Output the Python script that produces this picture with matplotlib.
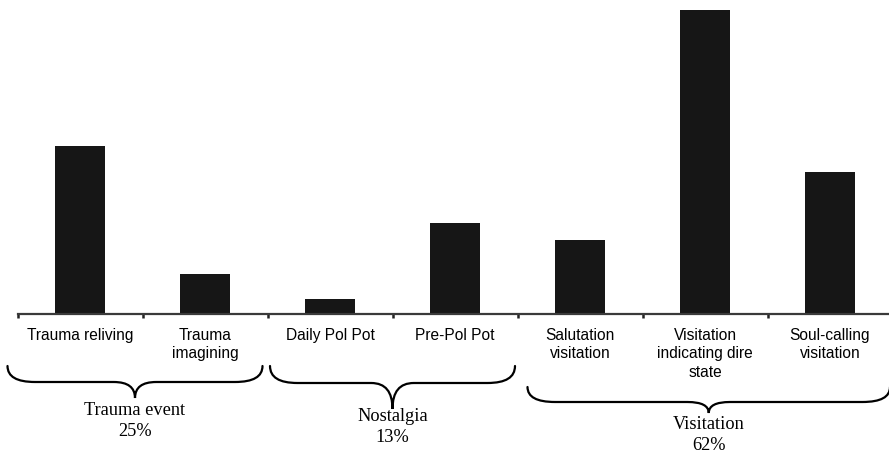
import matplotlib
matplotlib.use("Agg")
import matplotlib.pyplot as plt
from matplotlib.path import Path
from matplotlib.patches import PathPatch
from matplotlib.transforms import blended_transform_factory

categories = ["Trauma reliving", "Trauma\nimagining", "Daily Pol Pot", "Pre-Pol Pot",
              "Salutation\nvisitation", "Visitation\nindicating dire\nstate", "Soul-calling\nvisitation"]
values = [168, 40, 15, 91, 74, 304, 142]
groups = ["Trauma event\n25%", "Nostalgia\n13%", "Visitation\n62%"]
group_spans = [(0, 1), (2, 3), (4, 6)]

W, H = 889, 454
fig = plt.figure(figsize=(W / 100, H / 100), dpi=100)
ax_left, ax_bottom_px, ax_top_px = 17.5, 314, 0
ax = fig.add_axes([ax_left / W, (H - ax_bottom_px) / H, 875 / W, (ax_bottom_px - ax_top_px) / H])

x = list(range(len(categories)))
ax.bar(x, values, width=0.4, color="#161616")
ax.set_xlim(-0.5, len(categories) - 0.5)
ax.set_ylim(0, 314)

for s in ["top", "right", "left"]:
    ax.spines[s].set_visible(False)
ax.spines["bottom"].set_color("#3a3a3a")
ax.spines["bottom"].set_linewidth(1.6)
ax.set_yticks([])
ax.set_xticks(x)
ax.set_xticklabels(categories, fontsize=11.2, family="Liberation Sans", linespacing=1.3)
ax.tick_params(axis="x", which="major", length=0, pad=10)
ax.set_xticks([i - 0.5 for i in range(len(categories) + 1)], minor=True)
ax.tick_params(axis="x", which="minor", length=3, width=1.8, color="#222222", direction="out")

trans = blended_transform_factory(ax.transData, ax.transAxes)
axh = ax_bottom_px - ax_top_px

def fy(py):
    return (ax_bottom_px - py) / axh

def brace(x0, x1, yt, ym, yp, r_end=0.22, r_mid=0.17, xc=None):
    if xc is None:
        xc = (x0 + x1) / 2
    verts = [(x0, yt), (x0, ym), (x0 + r_end, ym),
             (xc - r_mid, ym), (xc, ym), (xc, yp),
             (xc, ym), (xc + r_mid, ym),
             (x1 - r_end, ym), (x1, ym), (x1, yt)]
    codes = [Path.MOVETO, Path.CURVE3, Path.CURVE3,
             Path.LINETO, Path.CURVE3, Path.CURVE3,
             Path.CURVE3, Path.CURVE3,
             Path.LINETO, Path.CURVE3, Path.CURVE3]
    p = PathPatch(Path(verts, codes), transform=trans, fill=False, lw=1.6,
                  edgecolor="black", clip_on=False, capstyle="round")
    ax.add_patch(p)

brace_geom = [
    dict(off0=-0.08, off1=-0.04, yt=366, ym=382, yp=398, ty=421),
    dict(off0=0.02, off1=-0.02, yt=366, ym=383, yp=409, ty=427),
    dict(off0=0.08, off1=-0.02, yt=387, ym=402, yp=413, ty=435),
]
for (a, b), g, lab in zip(group_spans, brace_geom, groups):
    x0 = a - 0.5 + g["off0"]
    x1 = b + 0.5 + g["off1"]
    xc = (x0 + x1) / 2
    brace(x0, x1, fy(g["yt"]), fy(g["ym"]), fy(g["yp"]), xc=xc)
    ax.text(xc, fy(g["ty"]), lab, transform=trans, ha="center", va="center",
            fontsize=13.2, family="Liberation Serif", linespacing=1.35)

fig.savefig("out.png", dpi=100, facecolor="white")
